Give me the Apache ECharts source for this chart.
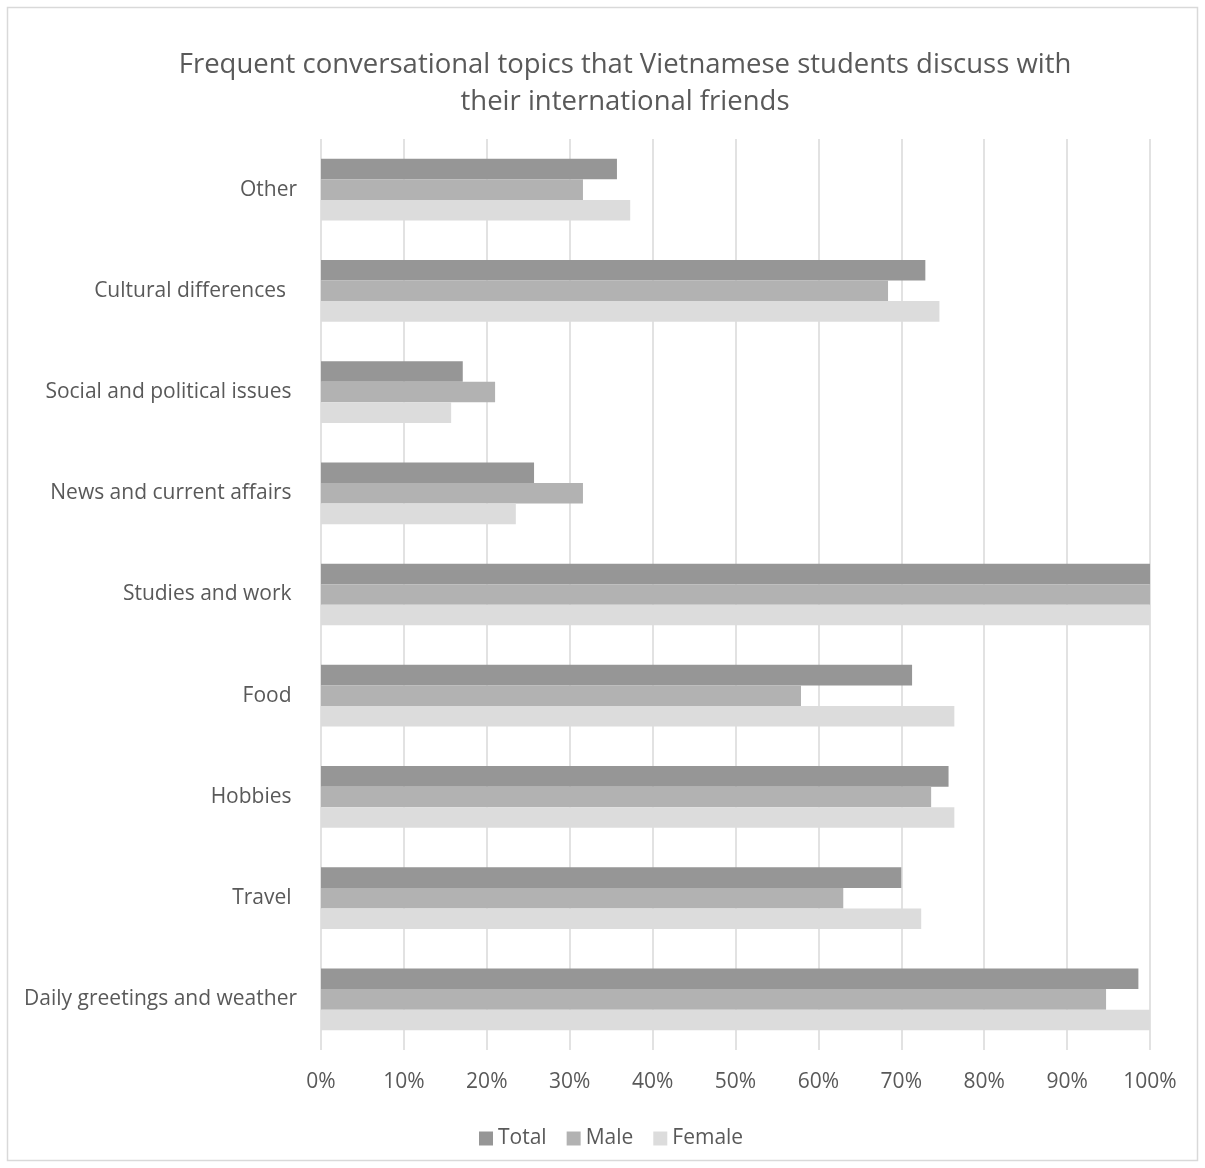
<!DOCTYPE html>
<html>
<head>
<meta charset="utf-8">
<title>Frequent conversational topics</title>
<script src="https://cdn.jsdelivr.net/npm/echarts@6/dist/echarts.min.js"></script>
<style>
  html, body { margin: 0; padding: 0; background: #fff; }
  #chart { width: 1205px; height: 1168px; }
</style>
</head>
<body>
<div id="chart"></div>
<script>
// categories, bottom to top (as the axis draws them)
var topics = [
    'Daily greetings and weather',
    'Travel ',
    'Hobbies ',
    'Food ',
    'Studies and work ',
    'News and current affairs ',
    'Social and political issues ',
    'Cultural differences  ',
    'Other'
];

var totalValues  = [98.6, 70.0, 75.7, 71.3, 100, 25.7, 17.1, 72.9, 35.7];
var maleValues   = [94.7, 63.0, 73.6, 57.9, 100, 31.6, 21.0, 68.4, 31.6];
var femaleValues = [100, 72.4, 76.4, 76.4, 100, 23.5, 15.7, 74.6, 37.3];

var seriesNames = ['Total', 'Male', 'Female'];
var xTicks = [0, 10, 20, 30, 40, 50, 60, 70, 80, 90, 100];

var textColor = '#595959';
var font = '"Open Sans", "Noto Sans", sans-serif';

var chart = echarts.init(document.getElementById('chart'), null, { renderer: 'canvas' });

function barSeries(name, data, color) {
    return {
        name: name,
        type: 'bar',
        data: data,
        barGap: '0%',
        barCategoryGap: '39%',
        itemStyle: { color: color },
        emphasis: { disabled: true },
        animation: false
    };
}

chart.setOption({
    backgroundColor: '#fff',
    animation: false,
    textStyle: { fontFamily: font },
    title: {
        text: 'Frequent conversational topics that Vietnamese students discuss with\ntheir international friends',
        left: 620,
        top: 42,
        textAlign: 'center',
        textStyle: {
            color: textColor,
            fontSize: 27.5,
            fontWeight: 'normal',
            lineHeight: 37,
            fontFamily: font
        }
    },
    graphic: [{
        type: 'rect',
        shape: { x: 7.5, y: 7.5, width: 1190, height: 1153 },
        style: { fill: null, stroke: '#d9d9d9', lineWidth: 1.5 },
        silent: true
    }],
    legend: {
        data: seriesNames,
        left: 474,
        top: 1123,
        itemWidth: 14,
        itemHeight: 14,
        itemGap: 20,
        icon: 'rect',
        textStyle: { color: textColor, fontSize: 21, fontFamily: font }
    },
    grid: {
        left: 321,
        right: 55,
        top: 139,
        bottom: 118,
        containLabel: false
    },
    xAxis: {
        type: 'value',
        min: xTicks[0],
        max: xTicks[xTicks.length - 1],
        interval: 10,
        axisLine: { show: false },
        axisTick: { show: false },
        splitLine: { show: true, lineStyle: { color: '#d9d9d9', width: 1.5 } },
        axisLabel: {
            color: textColor,
            fontSize: 21,
            margin: 22,
            formatter: '{value}%',
            fontFamily: font
        }
    },
    yAxis: {
        type: 'category',
        data: topics,
        axisLine: { show: false },
        axisTick: { show: false },
        axisLabel: {
            color: textColor,
            fontSize: 21,
            margin: 24,
            fontFamily: font
        }
    },
    series: [
        barSeries(seriesNames[0], totalValues, '#969696'),
        barSeries(seriesNames[1], maleValues, '#b2b2b2'),
        barSeries(seriesNames[2], femaleValues, '#dcdcdc')
    ]
});
</script>
</body>
</html>
